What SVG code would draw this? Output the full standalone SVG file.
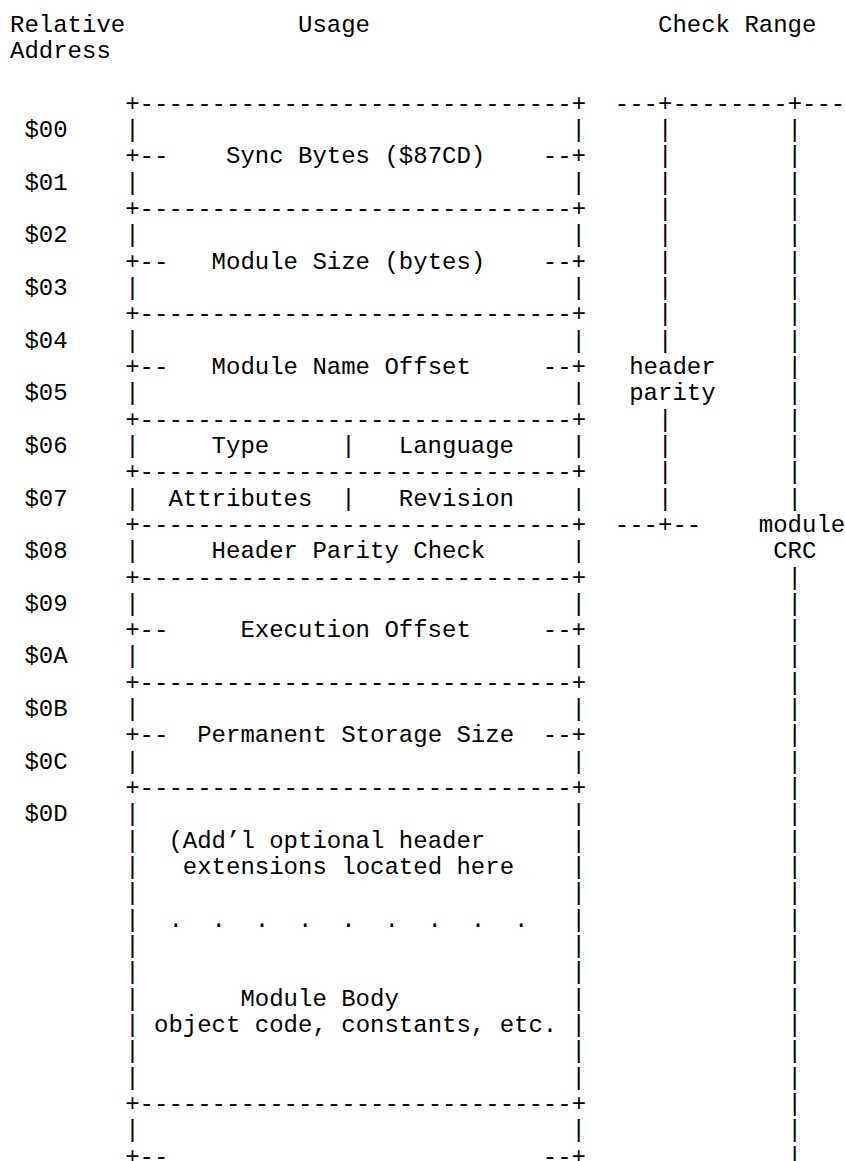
<svg xmlns="http://www.w3.org/2000/svg" width="845" height="1161" viewBox="0 0 845 1161">
<style>
.t{font-family:"Liberation Mono","Courier New",monospace;font-size:24px;fill:#000}
</style>
<rect x="0" y="0" width="845" height="1161" fill="#fff"/>
<g id="headings" class="t">
<text x="10" y="31.8">Relative</text>
<text x="10" y="58.12">Address</text>
<text x="298" y="31.8">Usage</text>
<text x="658" y="31.8">Check Range</text>
</g>
<g id="addresses" class="t">
<text x="24.4" y="137.08">$00</text>
<text x="24.4" y="189.72">$01</text>
<text x="24.4" y="242.36">$02</text>
<text x="24.4" y="295">$03</text>
<text x="24.4" y="347.64">$04</text>
<text x="24.4" y="400.28">$05</text>
<text x="24.4" y="452.92">$06</text>
<text x="24.4" y="505.56">$07</text>
<text x="24.4" y="558.2">$08</text>
<text x="24.4" y="610.84">$09</text>
<text x="24.4" y="663.48">$0A</text>
<text x="24.4" y="716.12">$0B</text>
<text x="24.4" y="768.76">$0C</text>
<text x="24.4" y="821.4">$0D</text>
</g>
<g id="memory-map" class="t">
<g id="field-sync-bytes">
<text x="125.2" y="110.76">+------------------------------+</text>
<text x="125.2" y="137.08">|</text><text x="571.6" y="137.08">|</text>
<text x="125.2" y="163.4">+--</text><text x="226" y="163.4">Sync Bytes ($87CD)</text><text x="542.8" y="163.4">--+</text>
<text x="125.2" y="189.72">|</text><text x="571.6" y="189.72">|</text>
<text x="125.2" y="216.04">+------------------------------+</text>
</g>
<g id="field-module-size">
<text x="125.2" y="242.36">|</text><text x="571.6" y="242.36">|</text>
<text x="125.2" y="268.68">+--</text><text x="211.6" y="268.68">Module Size (bytes)</text><text x="542.8" y="268.68">--+</text>
<text x="125.2" y="295">|</text><text x="571.6" y="295">|</text>
<text x="125.2" y="321.32">+------------------------------+</text>
</g>
<g id="field-module-name-offset">
<text x="125.2" y="347.64">|</text><text x="571.6" y="347.64">|</text>
<text x="125.2" y="373.96">+--</text><text x="211.6" y="373.96">Module Name Offset</text><text x="542.8" y="373.96">--+</text>
<text x="125.2" y="400.28">|</text><text x="571.6" y="400.28">|</text>
<text x="125.2" y="426.6">+------------------------------+</text>
</g>
<g id="field-type-language">
<text x="125.2" y="452.92">|</text><text x="211.6" y="452.92">Type</text><text x="341.2" y="452.92">|</text><text x="398.8" y="452.92">Language</text><text x="571.6" y="452.92">|</text>
<text x="125.2" y="479.24">+------------------------------+</text>
</g>
<g id="field-attributes-revision">
<text x="125.2" y="505.56">|</text><text x="168.4" y="505.56">Attributes</text><text x="341.2" y="505.56">|</text><text x="398.8" y="505.56">Revision</text><text x="571.6" y="505.56">|</text>
<text x="125.2" y="531.88">+------------------------------+</text>
</g>
<g id="field-header-parity-check">
<text x="125.2" y="558.2">|</text><text x="211.6" y="558.2">Header Parity Check</text><text x="571.6" y="558.2">|</text>
<text x="125.2" y="584.52">+------------------------------+</text>
</g>
<g id="field-execution-offset">
<text x="125.2" y="610.84">|</text><text x="571.6" y="610.84">|</text>
<text x="125.2" y="637.16">+--</text><text x="240.4" y="637.16">Execution Offset</text><text x="542.8" y="637.16">--+</text>
<text x="125.2" y="663.48">|</text><text x="571.6" y="663.48">|</text>
<text x="125.2" y="689.8">+------------------------------+</text>
</g>
<g id="field-permanent-storage-size">
<text x="125.2" y="716.12">|</text><text x="571.6" y="716.12">|</text>
<text x="125.2" y="742.44">+--</text><text x="197.2" y="742.44">Permanent Storage Size</text><text x="542.8" y="742.44">--+</text>
<text x="125.2" y="768.76">|</text><text x="571.6" y="768.76">|</text>
<text x="125.2" y="795.08">+------------------------------+</text>
</g>
<g id="field-module-body">
<text x="125.2" y="821.4">|</text><text x="571.6" y="821.4">|</text>
<text x="125.2" y="847.72">|</text><text x="168.4" y="847.72">(Add’l optional header</text><text x="571.6" y="847.72">|</text>
<text x="125.2" y="874.04">|</text><text x="182.8" y="874.04">extensions located here</text><text x="571.6" y="874.04">|</text>
<text x="125.2" y="900.36">|</text><text x="571.6" y="900.36">|</text>
<text x="125.2" y="926.68">|</text>
<text x="168.4" y="926.68">.</text><text x="211.6" y="926.68">.</text><text x="254.8" y="926.68">.</text><text x="298" y="926.68">.</text><text x="341.2" y="926.68">.</text><text x="384.4" y="926.68">.</text><text x="427.6" y="926.68">.</text><text x="470.8" y="926.68">.</text><text x="514" y="926.68">.</text>
<text x="571.6" y="926.68">|</text>
<text x="125.2" y="953">|</text><text x="571.6" y="953">|</text>
<text x="125.2" y="979.32">|</text><text x="571.6" y="979.32">|</text>
<text x="125.2" y="1005.64">|</text><text x="240.4" y="1005.64">Module Body</text><text x="571.6" y="1005.64">|</text>
<text x="125.2" y="1031.96">|</text><text x="154" y="1031.96">object code, constants, etc.</text><text x="571.6" y="1031.96">|</text>
<text x="125.2" y="1058.28">|</text><text x="571.6" y="1058.28">|</text>
<text x="125.2" y="1084.6">|</text><text x="571.6" y="1084.6">|</text>
<text x="125.2" y="1110.92">+------------------------------+</text>
</g>
<g id="field-tail">
<text x="125.2" y="1137.24">|</text><text x="571.6" y="1137.24">|</text>
<text x="125.2" y="1163.56">+--</text><text x="542.8" y="1163.56">--+</text>
</g>
</g>
<g id="connectors" class="t">
<text x="614.8" y="110.76">---+--------+---</text>
<text x="658" y="137.08">|</text><text x="787.6" y="137.08">|</text>
<text x="658" y="163.4">|</text><text x="787.6" y="163.4">|</text>
<text x="658" y="189.72">|</text><text x="787.6" y="189.72">|</text>
<text x="658" y="216.04">|</text><text x="787.6" y="216.04">|</text>
<text x="658" y="242.36">|</text><text x="787.6" y="242.36">|</text>
<text x="658" y="268.68">|</text><text x="787.6" y="268.68">|</text>
<text x="658" y="295">|</text><text x="787.6" y="295">|</text>
<text x="658" y="321.32">|</text><text x="787.6" y="321.32">|</text>
<text x="658" y="347.64">|</text><text x="787.6" y="347.64">|</text>
<text x="787.6" y="373.96">|</text>
<text x="787.6" y="400.28">|</text>
<text x="658" y="426.6">|</text><text x="787.6" y="426.6">|</text>
<text x="658" y="452.92">|</text><text x="787.6" y="452.92">|</text>
<text x="658" y="479.24">|</text><text x="787.6" y="479.24">|</text>
<text x="658" y="505.56">|</text><text x="787.6" y="505.56">|</text>
<text x="614.8" y="531.88">---+--</text>
<text x="787.6" y="584.52">|</text>
<text x="787.6" y="610.84">|</text>
<text x="787.6" y="637.16">|</text>
<text x="787.6" y="663.48">|</text>
<text x="787.6" y="689.8">|</text>
<text x="787.6" y="716.12">|</text>
<text x="787.6" y="742.44">|</text>
<text x="787.6" y="768.76">|</text>
<text x="787.6" y="795.08">|</text>
<text x="787.6" y="821.4">|</text>
<text x="787.6" y="847.72">|</text>
<text x="787.6" y="874.04">|</text>
<text x="787.6" y="900.36">|</text>
<text x="787.6" y="926.68">|</text>
<text x="787.6" y="953">|</text>
<text x="787.6" y="979.32">|</text>
<text x="787.6" y="1005.64">|</text>
<text x="787.6" y="1031.96">|</text>
<text x="787.6" y="1058.28">|</text>
<text x="787.6" y="1084.6">|</text>
<text x="787.6" y="1110.92">|</text>
<text x="787.6" y="1137.24">|</text>
<text x="787.6" y="1163.56">|</text>
</g>
<g id="label-header-parity" class="t">
<text x="629.2" y="373.96">header</text>
<text x="629.2" y="400.28">parity</text>
</g>
<g id="label-module-crc" class="t">
<text x="758.8" y="531.88">module</text>
<text x="773.2" y="558.2">CRC</text>
</g>
</svg>
